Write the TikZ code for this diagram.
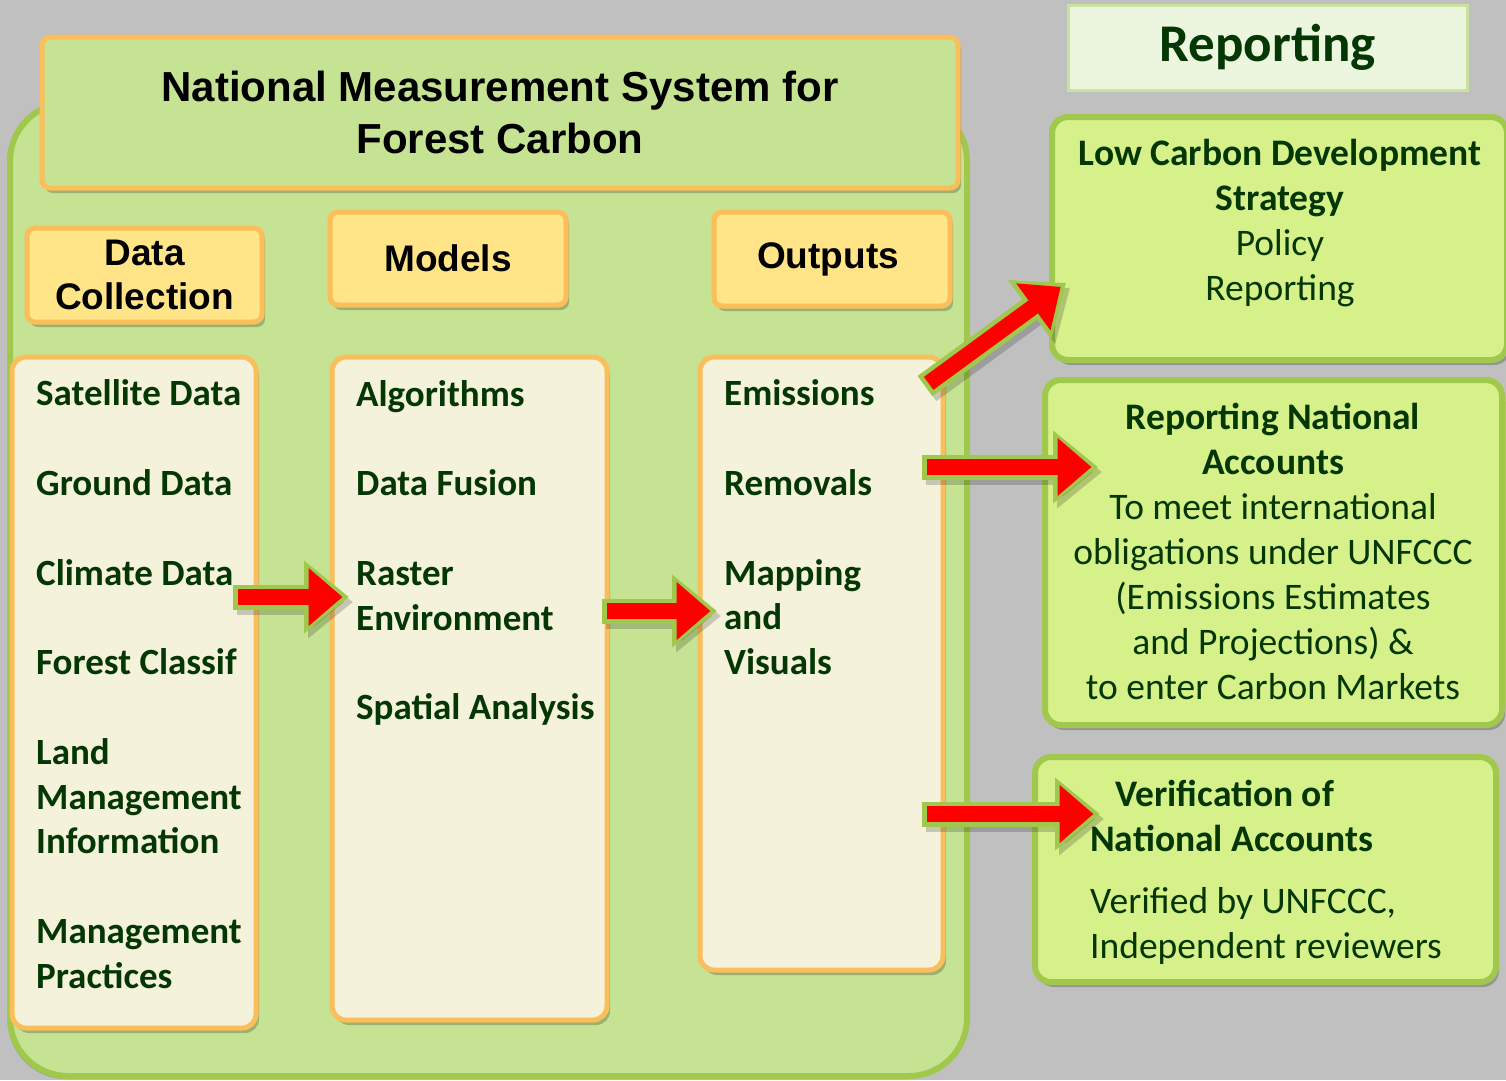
\documentclass[tikz,border=0pt]{standalone}
\usepackage{fontspec}
\setmainfont{Carlito}
\newfontfamily\arialfont{Liberation Sans}
\usetikzlibrary{arrows.meta, shadows}
\definecolor{bggray}{RGB}{192,192,192}
\definecolor{panelgreen}{RGB}{198,227,147}
\definecolor{panelline}{RGB}{160,200,76}
\definecolor{orangeline}{RGB}{250,190,90}
\definecolor{headyellow}{RGB}{255,228,136}
\definecolor{cream}{RGB}{244,242,218}
\definecolor{limefill}{RGB}{214,240,138}
\definecolor{paleline}{RGB}{200,226,160}
\definecolor{palefill}{RGB}{236,246,222}
\definecolor{darkgreen}{RGB}{5,55,5}

\begin{document}
\begin{tikzpicture}[x=1pt,y=-1pt,
  boxshadow/.style={drop shadow={shadow xshift=3pt,shadow yshift=-5pt,fill=black,opacity=0.22}},
  panel/.style={draw=panelline,line width=6pt,fill=panelgreen,rounded corners=58pt,
                drop shadow={shadow xshift=-2pt,shadow yshift=-3pt,fill=black,opacity=0.2}},
  titlebox/.style={draw=orangeline,line width=5pt,fill=panelgreen,rounded corners=8pt,boxshadow,
                   font=\arialfont\bfseries\fontsize{42}{52}\selectfont,align=center,inner sep=0pt},
  headbox/.style={draw=orangeline,line width=5pt,fill=headyellow,rounded corners=8pt,boxshadow,
                  font=\arialfont\bfseries\fontsize{37}{44}\selectfont,align=center,inner sep=0pt},
  colbox/.style={draw=orangeline,line width=5pt,fill=cream,rounded corners=14pt,boxshadow},
  item/.style={font=\bfseries\fontsize{37}{45}\selectfont,text=darkgreen,anchor=base west,inner sep=0pt},
  limebox/.style={draw=panelline,line width=6pt,fill=limefill,rounded corners=16pt,boxshadow},
  reptext/.style={font=\fontsize{37.5}{45}\selectfont,text=darkgreen,align=center,inner sep=0pt},
  arrshade/.style={line width=25pt,black,opacity=0.18,-{Triangle[length=45pt,width=70pt]},
                   transform canvas={xshift=4pt,yshift=-5pt}},
  arrout/.style={line width=25pt,panelline,-{Triangle[length=45pt,width=70pt]}},
  arrin/.style={line width=16pt,red,-{Triangle[length=34pt,width=56pt]},shorten <=4.5pt,shorten >=6.5pt}
]
\fill[bggray] (0,0) rectangle (1506,1080);
\useasboundingbox (0,0) rectangle (1506,1080);

% measurement system panel
\node[panel,minimum width=957pt,minimum height=973pt] (nms) at (488.5,589.5) {};
\node[titlebox,minimum width=916pt,minimum height=151pt] (title) at (500,112.5)
  {National Measurement System for\\Forest Carbon};

% column headers
\node[headbox,minimum width=235pt,minimum height=94pt] (dc)  at (144.5,275) {Data\\Collection};
\node[headbox,minimum width=236pt,minimum height=93pt] (mod) at (448,258.5) {Models};
\node[headbox,minimum width=236pt,minimum height=94pt] (out) at (832,259)   {\hspace*{-8pt}Outputs};

% column bodies
\node[colbox,minimum width=244pt,minimum height=671pt] (col1) at (134,692.5) {};
\node[colbox,minimum width=275pt,minimum height=663pt] (col2) at (469.5,688.5) {};
\node[colbox,minimum width=243pt,minimum height=613pt] (col3) at (821.5,663.5) {};

\foreach \nm/\yy/\txt in {sat/405/Satellite Data, gnd/495/Ground Data, clim/585/Climate Data,
    fcls/674/Forest Classif, land/764/Land, lmgt/809/Management, linf/853/Information,
    mgmt/943/Management, prac/988/Practices}
  \node[item] (\nm) at (36,\yy) {\txt};
\foreach \nm/\yy/\txt in {alg/406/Algorithms, fus/495/Data Fusion, rast/585/Raster,
    env/630/Environment, spat/719/Spatial Analysis}
  \node[item] (\nm) at (356,\yy) {\txt};
\foreach \nm/\yy/\txt in {emis/405/Emissions, remv/495/Removals, mapp/585/Mapping,
    mand/629/and, visu/674/Visuals}
  \node[item] (\nm) at (724,\yy) {\txt};

% reporting side
\node[draw=paleline,line width=3pt,fill=palefill,minimum width=399pt,minimum height=85pt,
      font=\bfseries\fontsize{53}{60}\selectfont,text=darkgreen] (rephead) at (1267.5,47.5) {Reporting};
\node[limebox,minimum width=455pt,minimum height=243pt] (lcbox) at (1279.5,238.5) {};
\node[limebox,minimum width=457pt,minimum height=345pt] (rnbox) at (1273.5,552.5) {};
\node[limebox,minimum width=461pt,minimum height=225pt] (vnbox) at (1265.5,869.5) {};

\node[reptext,anchor=north] (lcds) at (1280,139)
  {\textbf{Low Carbon Development}\\\textbf{Strategy}\\Policy\\Reporting};
\node[reptext,anchor=north] (rnat) at (1273,403)
  {\textbf{Reporting National}\\\textbf{Accounts}\\To meet international\\obligations under UNFCCC\\
   (Emissions Estimates\\and Projections) \&\\to enter Carbon Markets};
\node[reptext,align=left,anchor=north west] (vnat) at (1090,780)
  {\hspace*{25pt}\textbf{Verification of}\\\textbf{National Accounts}\\[17pt]
   Verified by UNFCCC,\\Independent reviewers};

% block arrows
\coordinate (a1s) at (233,597);  \coordinate (a1e) at (349,597);
\coordinate (a2s) at (602,611);  \coordinate (a2e) at (717,611);
\coordinate (a3s) at (925,386);  \coordinate (a3e) at (1066,283);
\coordinate (a4s) at (922,467);  \coordinate (a4e) at (1098,467);
\coordinate (a5s) at (922,814);  \coordinate (a5e) at (1100,814);
\foreach \s/\e in {a1s/a1e, a2s/a2e, a3s/a3e, a4s/a4e, a5s/a5e}{
  \draw[arrshade] (\s) -- (\e);
  \draw[arrout] (\s) -- (\e);
  \draw[arrin] (\s) -- (\e);
}
\end{tikzpicture}
\end{document}
